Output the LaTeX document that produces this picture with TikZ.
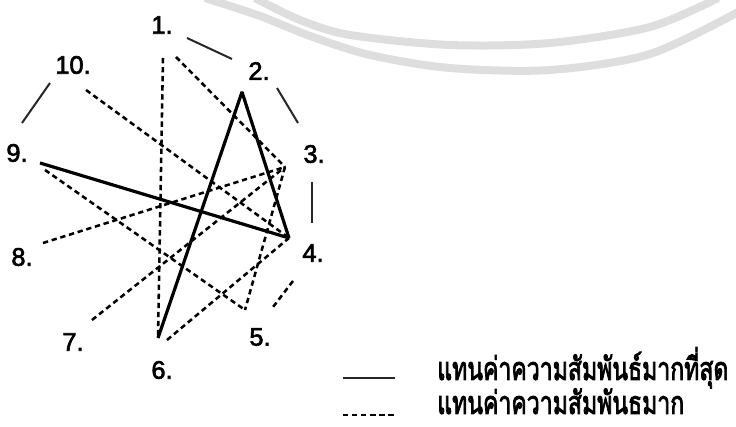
\documentclass[tikz,border=0pt]{standalone}
\usepackage{fontspec}
\setmainfont{Liberation Sans}
\newfontfamily\numfont[FakeBold=2.5]{Liberation Sans}
\newfontfamily\thaifont[Script=Thai,FakeBold=3]{Loma}
\usetikzlibrary{calc}
\tikzset{strong/.style={line width=2.4pt},rel/.style={line width=1.9pt,dash pattern=on 4pt off 2.8pt},ring/.style={line width=1.5pt,black!85},
num/.style={font=\numfont\fontsize{19}{21}\selectfont,inner sep=0pt},legtext/.style={anchor=base west,inner sep=0pt,text depth=0pt,font=\thaifont\fontsize{24}{26}\selectfont},
wmark/.style={line width=6pt,black!13}}

\begin{document}
\begin{tikzpicture}[x=0.75pt,y=-0.75pt]
\useasboundingbox (0,0) rectangle (736,427);
% faint seal in the background
\draw[wmark] plot[smooth] coordinates {(255,-2) (300,20) (350,35) (450,45) (550,43) (650,27) (718,-2)};
\draw[wmark] plot[smooth] coordinates {(205,-2) (260,16) (310,36) (370,55) (450,68) (550,70) (650,54) (742,10)};
% labels round the circle
\node[num] (l1) at (162,25){1.};\node[num] (l2) at (259,71){2.};\node[num] (l3) at (314,154){3.};
\node[num] (l4) at (313,253){4.};\node[num] (l5) at (260,337){5.};\node[num] (l6) at (162,370){6.};
\node[num] (l7) at (73,342){7.};\node[num] (l8) at (22,257){8.};\node[num] (l9) at (17,153){9.};\node[num] (l10) at (73,65){10.};
% points where the chords meet
\coordinate (v1) at (163,58);\coordinate (v2) at (242,92);\coordinate (v3) at (285,167);\coordinate (v4) at (289,238);
\coordinate (v5) at (245,310);\coordinate (v6) at (158,338);\coordinate (v7) at (92,320);\coordinate (v8) at (43,243);
\coordinate (v9) at (40,163);\coordinate (v10) at (86,90);
% strongest
\draw[strong] (v9)--(v4);\draw[strong,line join=bevel] (v6)--(v2)--(v4);
% strong
\draw[rel] (v1)--(v6);\draw[rel] ($(v1)+(13,-1)$)--(v3);\draw[rel] (v10)--(v4);\draw[rel] ($(v9)+(5,7)$)--(v5);
\draw[rel] (v8)--(v3);\draw[rel] (v7)--(v3);\draw[rel] ($(v6)+(9,2)$)--(v4);\draw[rel] (v3)--(v5);
% short pieces of the outer ring
\coordinate (r1a) at (187,38);\coordinate (r1b) at (232,59);\draw[ring] (r1a)--(r1b);
\coordinate (r2a) at (277,88);\coordinate (r2b) at (298,123);\draw[ring] (r2a)--(r2b);
\coordinate (r3a) at (312,182);\coordinate (r3b) at (312,223);\draw[ring] (r3a)--(r3b);
\coordinate (r4a) at (293,281);\coordinate (r4b) at (273,307);\draw[rel] (r4a)--(r4b);
\coordinate (r9a) at (50,83);\coordinate (r9b) at (22,123);\draw[ring] (r9a)--(r9b);
% legend
\coordinate (s1) at (343,378);\coordinate (s2) at (395,378);\draw[ring,line width=1.1pt] (s1)--(s2);
\coordinate (d1) at (343,415);\coordinate (d2) at (395,415);\draw[rel,line width=1.4pt] (d1)--(d2);
\node[legtext] (t1) at (437,380){\scalebox{0.72}[1]{แทนค่าความสัมพันธ์มากที่สุด}};
\node[legtext] (t2) at (437,414){\scalebox{0.72}[1]{แทนค่าความสัมพันธมาก}};
\end{tikzpicture}
\end{document}
